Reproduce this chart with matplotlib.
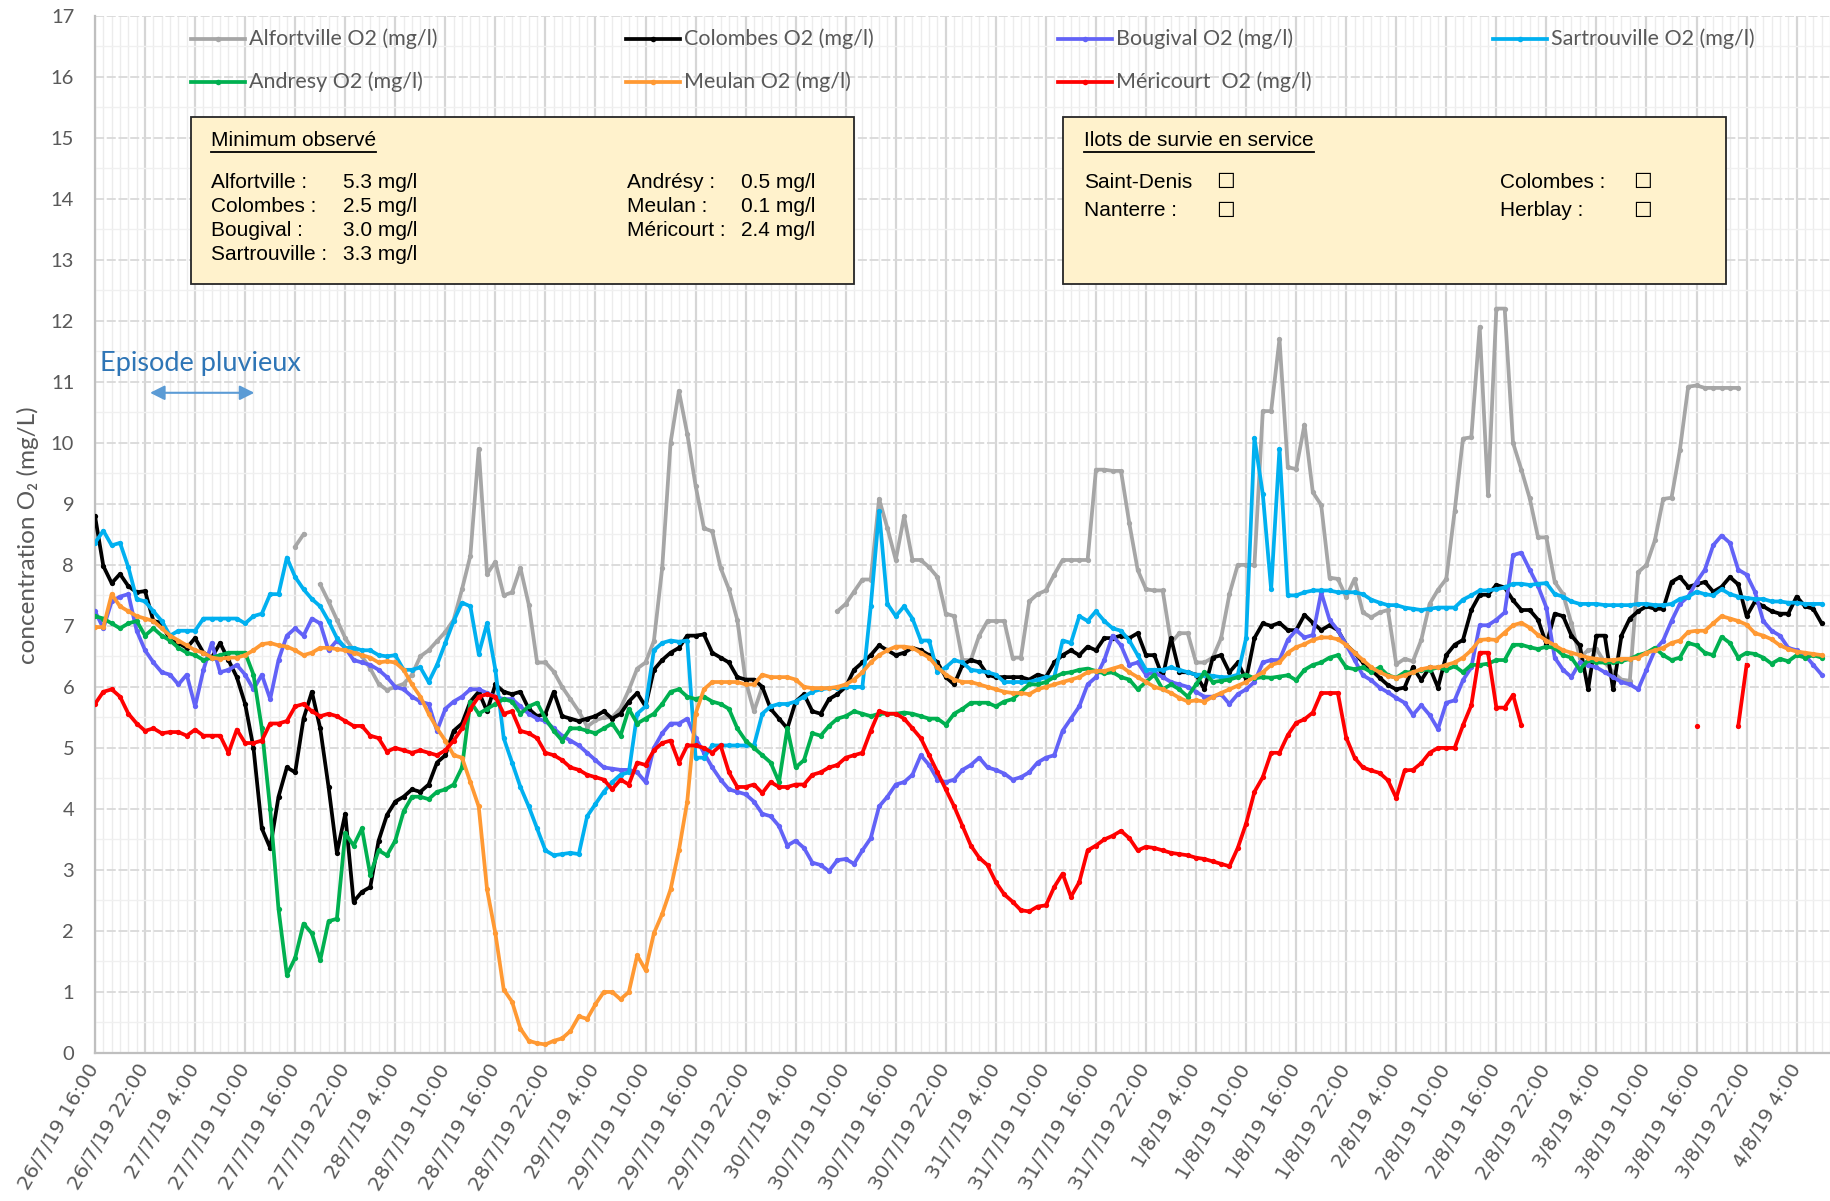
import numpy as np
import matplotlib
matplotlib.use('Agg')
import matplotlib.pyplot as plt
import matplotlib.dates as mdates
from matplotlib.lines import Line2D
from matplotlib.patches import Rectangle
import pandas as pd

nan = np.nan

# hourly readings, starting 26/7/19 16:00
start = pd.Timestamp('2019-07-26 16:00')
times = pd.date_range(start, periods=208, freq='h')

alfortville = [nan] * 24 + [8.3, 8.5, nan] + [
    7.68, 7.4, 7.1,
    6.8, 6.6, 6.5, 6.3, 6.05, 5.95, 6.0, 6.05, 6.2, 6.5,
    6.6, 6.75, 6.9, 7.1, 7.6, 8.15, 9.9, 7.85, 8.05, 7.5,
    7.55, 7.95, 7.35, 6.4, 6.4, 6.25, 6.0, 5.8, 5.6, 5.35,
    5.45, 5.5, 5.5, 5.65, 5.95, 6.3, 6.4, 6.75, 7.95, 10.0,
    10.85, 10.15, 9.3, 8.6, 8.55, 7.95, 7.6, 7.1, 6.1, 5.6,
    6.0] + [nan] * 8 + [
    7.24,
    7.36, 7.56, 7.76, 7.76, 9.08, 8.6, 8.08, 8.8, 8.08, 8.08,
    7.96, 7.8, 7.2, 7.16, 6.44, 6.44, 6.84, 7.08, 7.08, 7.08,
    6.48, 6.48, 7.4, 7.52, 7.58, 7.84, 8.08, 8.08, 8.08, 8.08,
    9.56, 9.56, 9.54, 9.54, 8.68, 7.92, 7.6, 7.58, 7.58, 6.72,
    6.88, 6.88, 6.4, 6.4, 6.48, 6.8, 7.52, 8.0, 8.0, 8.0,
    10.52, 10.52, 11.7, 9.6, 9.57, 10.3, 9.19, 8.98, 7.79, 7.77,
    7.47, 7.77, 7.22, 7.14, 7.22, 7.26, 6.37, 6.46, 6.42, 6.77,
    7.36, 7.59, 7.77, 8.88, 10.07, 10.09, 11.9, 9.15, 12.2, 12.2,
    10.0, 9.56, 9.09, 8.45, 8.45, 7.72, 7.52, 7.04, 6.48, 6.6,
    6.62, 6.4, 6.24, 6.12, 6.1, 7.88, 8.0, 8.4, 9.08, 9.1,
    9.88, 10.92, 10.94, 10.9, 10.9, 10.9, 10.9, 10.9] + [nan] * 10

colombes = [
    8.8, 7.98, 7.7, 7.85, 7.65, 7.55, 7.57, 7.08, 7.05, 6.76,
    6.72, 6.64, 6.8, 6.56, 6.48, 6.72, 6.44, 6.16, 5.72, 5.0,
    3.68, 3.36, 4.2, 4.68, 4.6, 5.48, 5.92, 5.32, 4.36, 3.28,
    3.92, 2.48, 2.64, 2.72, 3.48, 3.9, 4.12, 4.2, 4.32, 4.28,
    4.4, 4.76, 4.88, 5.28, 5.4, 5.76, 5.92, 5.6, 6.04, 5.92,
    5.88, 5.92, 5.64, 5.52, 5.56, 5.92, 5.52, 5.48, 5.44, 5.48,
    5.52, 5.6, 5.48, 5.56, 5.76, 5.9, 5.68, 6.28, 6.44, 6.56,
    6.64, 6.84, 6.84, 6.86, 6.56, 6.48, 6.4, 6.16, 6.12, 6.12,
    6.0, 5.64, 5.48, 5.32, 5.76, 5.88, 5.6, 5.56, 5.8, 5.88,
    6.0, 6.28, 6.4, 6.52, 6.68, 6.6, 6.52, 6.56, 6.64, 6.6,
    6.52, 6.4, 6.16, 6.04, 6.36, 6.44, 6.4, 6.2, 6.16, 6.16,
    6.16, 6.16, 6.12, 6.2, 6.16, 6.4, 6.52, 6.6, 6.52, 6.66,
    6.6, 6.8, 6.8, 6.84, 6.8, 6.88, 6.52, 6.52, 6.16, 6.8,
    6.24, 6.24, 6.2, 5.96, 6.48, 6.52, 6.24, 6.4, 6.12, 6.8,
    7.04, 7.0, 7.05, 6.93, 6.93, 7.18, 7.05, 6.93, 7.01, 6.93,
    6.69, 6.56, 6.4, 6.28, 6.15, 6.03, 5.96, 5.99, 6.32, 6.11,
    6.32, 5.99, 6.52, 6.69, 6.77, 7.26, 7.51, 7.51, 7.67, 7.63,
    7.42, 7.26, 7.26, 7.1, 6.7, 7.2, 7.16, 6.84, 6.68, 5.96,
    6.84, 6.84, 5.96, 6.84, 7.12, 7.24, 7.32, 7.28, 7.28, 7.72,
    7.8, 7.64, 7.68, 7.72, 7.56, 7.64, 7.8, 7.68, 7.16, 7.4,
    7.32, 7.24, 7.2, 7.2, 7.48, 7.32, 7.28, 7.04]

bougival = [
    7.24, 6.96, 7.4, 7.48, 7.52, 6.92, 6.6, 6.4, 6.24, 6.2,
    6.04, 6.2, 5.68, 6.28, 6.72, 6.24, 6.28, 6.36, 6.2, 5.96,
    6.2, 5.8, 6.44, 6.84, 6.96, 6.84, 7.12, 7.04, 6.6, 6.76,
    6.64, 6.44, 6.4, 6.36, 6.28, 6.16, 6.0, 5.96, 5.84, 5.76,
    5.72, 5.28, 5.64, 5.76, 5.84, 5.96, 5.96, 5.9, 5.84, 5.8,
    5.8, 5.68, 5.56, 5.48, 5.44, 5.32, 5.2, 5.12, 5.04, 4.92,
    4.8, 4.68, 4.66, 4.64, 4.64, 4.6, 4.44, 5.0, 5.24, 5.4,
    5.4, 5.48, 5.16, 4.92, 4.68, 4.48, 4.32, 4.28, 4.24, 4.12,
    3.92, 3.88, 3.72, 3.4, 3.48, 3.36, 3.12, 3.08, 2.98, 3.16,
    3.18, 3.1, 3.32, 3.52, 4.04, 4.2, 4.4, 4.44, 4.56, 4.88,
    4.72, 4.48, 4.44, 4.48, 4.64, 4.72, 4.84, 4.68, 4.64, 4.58,
    4.48, 4.52, 4.6, 4.76, 4.84, 4.88, 5.28, 5.48, 5.68, 6.04,
    6.16, 6.44, 6.84, 6.68, 6.36, 6.4, 6.2, 6.24, 6.16, 6.08,
    6.04, 6.0, 5.92, 5.84, 5.84, 5.88, 5.72, 5.88, 5.96, 6.08,
    6.4, 6.44, 6.44, 6.77, 6.93, 6.81, 6.85, 7.55, 7.1, 6.93,
    6.69, 6.44, 6.19, 6.11, 5.99, 5.91, 5.82, 5.74, 5.54, 5.7,
    5.54, 5.31, 5.74, 5.78, 6.11, 6.32, 7.01, 7.01, 7.1, 7.22,
    8.16, 8.2, 7.92, 7.65, 7.3, 6.48, 6.28, 6.16, 6.4, 6.36,
    6.32, 6.24, 6.16, 6.08, 6.04, 5.96, 6.28, 6.6, 6.76, 7.08,
    7.36, 7.48, 7.72, 7.92, 8.32, 8.48, 8.36, 7.92, 7.84, 7.56,
    7.08, 6.92, 6.84, 6.64, 6.6, 6.52, 6.36, 6.2]

sartrouville = [
    8.36, 8.56, 8.32, 8.36, 7.96, 7.44, 7.4, 7.24, 7.08, 6.84,
    6.92, 6.92, 6.92, 7.12, 7.12, 7.12, 7.12, 7.12, 7.04, 7.16,
    7.2, 7.52, 7.52, 8.12, 7.8, 7.6, 7.44, 7.32, 7.08, 6.8,
    6.64, 6.64, 6.6, 6.6, 6.52, 6.5, 6.52, 6.28, 6.28, 6.32,
    6.08, 6.36, 6.72, 7.08, 7.38, 7.32, 6.54, 7.04, 6.28, 5.16,
    4.76, 4.36, 4.04, 3.68, 3.32, 3.24, 3.26, 3.28, 3.26, 3.88,
    4.08, 4.28, 4.44, 4.56, 4.6, 5.56, 5.68, 6.6, 6.72, 6.76,
    6.74, 6.76, 4.84, 4.84, 5.04, 5.04, 5.04, 5.04, 5.04, 5.04,
    5.56, 5.68, 5.72, 5.72, 5.76, 5.84, 5.92, 5.96, 5.98, 5.98,
    6.0, 6.0, 6.0, 7.32, 8.88, 7.36, 7.16, 7.32, 7.12, 6.76,
    6.76, 6.24, 6.32, 6.44, 6.4, 6.28, 6.26, 6.24, 6.2, 6.08,
    6.08, 6.08, 6.08, 6.12, 6.16, 6.16, 6.76, 6.72, 7.16, 7.08,
    7.24, 7.08, 6.96, 6.92, 6.76, 6.52, 6.28, 6.28, 6.28, 6.32,
    6.28, 6.24, 6.2, 6.2, 6.18, 6.16, 6.16, 6.2, 6.8, 10.08,
    9.16, 7.6, 9.9, 7.5, 7.5, 7.55, 7.58, 7.58, 7.58, 7.55,
    7.55, 7.55, 7.52, 7.43, 7.38, 7.34, 7.34, 7.3, 7.28, 7.26,
    7.28, 7.3, 7.3, 7.3, 7.43, 7.5, 7.58, 7.58, 7.6, 7.63,
    7.69, 7.69, 7.67, 7.69, 7.7, 7.52, 7.48, 7.4, 7.36, 7.36,
    7.36, 7.34, 7.34, 7.34, 7.34, 7.36, 7.36, 7.34, 7.34, 7.36,
    7.44, 7.48, 7.56, 7.52, 7.5, 7.6, 7.52, 7.48, 7.46, 7.44,
    7.44, 7.4, 7.4, 7.38, 7.38, 7.36, 7.36, 7.36]

andresy = [
    7.16, 7.12, 7.04, 6.96, 7.04, 7.08, 6.84, 6.96, 6.84, 6.76,
    6.64, 6.56, 6.52, 6.44, 6.48, 6.52, 6.56, 6.56, 6.56, 6.2,
    5.32, 4.0, 2.36, 1.28, 1.56, 2.12, 1.96, 1.52, 2.16, 2.2,
    3.6, 3.4, 3.68, 2.92, 3.32, 3.24, 3.48, 3.96, 4.2, 4.2,
    4.16, 4.28, 4.32, 4.4, 4.68, 5.76, 5.56, 5.64, 5.72, 5.8,
    5.76, 5.56, 5.68, 5.74, 5.48, 5.28, 5.12, 5.32, 5.32, 5.28,
    5.24, 5.32, 5.4, 5.2, 5.64, 5.4, 5.48, 5.56, 5.72, 5.92,
    5.96, 5.84, 5.8, 5.84, 5.76, 5.72, 5.64, 5.32, 5.12, 5.0,
    4.88, 4.76, 4.44, 5.32, 4.68, 4.8, 5.24, 5.2, 5.36, 5.48,
    5.52, 5.6, 5.56, 5.52, 5.56, 5.56, 5.56, 5.58, 5.56, 5.52,
    5.48, 5.48, 5.38, 5.56, 5.64, 5.74, 5.74, 5.74, 5.68, 5.76,
    5.8, 5.92, 6.04, 6.04, 6.08, 6.16, 6.22, 6.24, 6.28, 6.3,
    6.26, 6.22, 6.24, 6.16, 6.12, 5.96, 6.08, 6.2, 5.96, 6.04,
    5.96, 5.84, 6.04, 6.24, 6.08, 6.1, 6.12, 6.16, 6.2, 6.14,
    6.16, 6.15, 6.17, 6.19, 6.11, 6.28, 6.36, 6.4, 6.48, 6.52,
    6.32, 6.29, 6.32, 6.24, 6.32, 6.19, 6.15, 6.24, 6.24, 6.28,
    6.28, 6.32, 6.28, 6.34, 6.24, 6.36, 6.36, 6.38, 6.44, 6.44,
    6.69, 6.69, 6.65, 6.62, 6.66, 6.64, 6.52, 6.48, 6.28, 6.44,
    6.4, 6.4, 6.4, 6.42, 6.46, 6.52, 6.56, 6.64, 6.52, 6.44,
    6.48, 6.72, 6.68, 6.56, 6.52, 6.82, 6.72, 6.48, 6.56, 6.54,
    6.48, 6.38, 6.46, 6.42, 6.52, 6.48, 6.52, 6.48]

meulan = [
    6.98, 6.98, 7.52, 7.32, 7.24, 7.16, 7.12, 7.08, 6.96, 6.84,
    6.76, 6.68, 6.6, 6.56, 6.48, 6.46, 6.48, 6.48, 6.52, 6.6,
    6.7, 6.72, 6.68, 6.66, 6.6, 6.52, 6.56, 6.64, 6.64, 6.62,
    6.6, 6.56, 6.52, 6.48, 6.4, 6.42, 6.4, 6.28, 6.04, 5.84,
    5.56, 5.32, 5.12, 4.88, 4.84, 4.44, 4.04, 2.68, 1.96, 1.04,
    0.84, 0.4, 0.2, 0.16, 0.14, 0.2, 0.24, 0.36, 0.6, 0.56,
    0.8, 1.0, 1.0, 0.88, 1.0, 1.6, 1.36, 1.96, 2.28, 2.68,
    3.32, 4.12, 5.56, 5.96, 6.08, 6.08, 6.08, 6.08, 6.04, 6.04,
    6.2, 6.16, 6.16, 6.16, 6.12, 6.0, 5.98, 5.98, 5.98, 6.0,
    6.04, 6.12, 6.24, 6.4, 6.52, 6.6, 6.66, 6.66, 6.64, 6.56,
    6.48, 6.32, 6.2, 6.12, 6.08, 6.08, 6.04, 6.0, 5.96, 5.92,
    5.9, 5.9, 5.88, 5.96, 6.0, 6.04, 6.08, 6.12, 6.16, 6.24,
    6.26, 6.26, 6.3, 6.34, 6.24, 6.16, 6.08, 6.0, 5.96, 5.9,
    5.82, 5.76, 5.78, 5.76, 5.84, 5.9, 5.96, 6.02, 6.08, 6.16,
    6.24, 6.36, 6.4, 6.56, 6.65, 6.7, 6.77, 6.81, 6.81, 6.78,
    6.69, 6.56, 6.44, 6.32, 6.24, 6.18, 6.15, 6.19, 6.24, 6.29,
    6.32, 6.32, 6.36, 6.4, 6.48, 6.6, 6.77, 6.78, 6.77, 6.89,
    7.01, 7.05, 6.97, 6.85, 6.76, 6.68, 6.6, 6.56, 6.52, 6.48,
    6.46, 6.44, 6.44, 6.46, 6.46, 6.48, 6.56, 6.6, 6.64, 6.72,
    6.76, 6.9, 6.92, 6.92, 7.04, 7.16, 7.12, 7.08, 7.02, 6.88,
    6.84, 6.78, 6.68, 6.62, 6.58, 6.56, 6.54, 6.52]

mericourt = [
    5.72, 5.92, 5.96, 5.84, 5.56, 5.4, 5.28, 5.32, 5.24, 5.26,
    5.26, 5.2, 5.3, 5.2, 5.2, 5.2, 4.92, 5.3, 5.08, 5.08,
    5.12, 5.4, 5.4, 5.44, 5.68, 5.72, 5.6, 5.52, 5.56, 5.52,
    5.44, 5.36, 5.36, 5.2, 5.16, 4.94, 5.0, 4.96, 4.92, 4.96,
    4.92, 4.88, 4.96, 5.12, 5.32, 5.64, 5.84, 5.88, 5.84, 5.56,
    5.6, 5.28, 5.24, 5.16, 4.92, 4.88, 4.8, 4.68, 4.64, 4.56,
    4.52, 4.48, 4.32, 4.48, 4.4, 4.76, 4.72, 4.96, 5.08, 5.12,
    4.76, 5.04, 5.04, 5.0, 4.92, 5.04, 4.6, 4.36, 4.36, 4.4,
    4.26, 4.44, 4.36, 4.36, 4.4, 4.4, 4.56, 4.6, 4.68, 4.72,
    4.84, 4.88, 4.92, 5.28, 5.6, 5.56, 5.56, 5.48, 5.32, 5.16,
    4.88, 4.6, 4.32, 4.04, 3.72, 3.4, 3.2, 3.08, 2.8, 2.6,
    2.48, 2.34, 2.32, 2.4, 2.42, 2.72, 2.94, 2.56, 2.8, 3.32,
    3.4, 3.5, 3.56, 3.64, 3.52, 3.32, 3.38, 3.36, 3.32, 3.28,
    3.26, 3.24, 3.2, 3.18, 3.14, 3.1, 3.06, 3.36, 3.76, 4.28,
    4.52, 4.92, 4.92, 5.21, 5.41, 5.47, 5.58, 5.9, 5.9, 5.9,
    5.17, 4.84, 4.68, 4.63, 4.59, 4.47, 4.18, 4.63, 4.64, 4.75,
    4.92, 5.0, 5.0, 5.0, 5.37, 5.7, 6.56, 6.56, 5.66, 5.66,
    5.87, 5.37] + [nan] * 20 + [5.36] + [nan] * 4 + [5.36, 6.36] + [nan] * 9

series = [
    ('Alfortville O2 (mg/l)', alfortville, '#a6a6a6'),
    ('Colombes O2 (mg/l)', colombes, '#000000'),
    ('Bougival O2 (mg/l)', bougival, '#6262f7'),
    ('Sartrouville O2 (mg/l)', sartrouville, '#00b0f0'),
    ('Andresy O2 (mg/l)', andresy, '#00b050'),
    ('Meulan O2 (mg/l)', meulan, '#ff9933'),
    ('Méricourt  O2 (mg/l)', mericourt, '#ff0000'),
]

min_left = [('Alfortville :', '5.3 mg/l'), ('Colombes :', '2.5 mg/l'),
            ('Bougival :', '3.0 mg/l'), ('Sartrouville :', '3.3 mg/l')]
min_right = [('Andrésy :', '0.5 mg/l'), ('Meulan :', '0.1 mg/l'),
             ('Méricourt :', '2.4 mg/l')]
ilots_left = ['Saint-Denis', 'Nanterre :']
ilots_right = ['Colombes :', 'Herblay :']

W, H = 1830, 1201
GREY = '#595959'


def fx(x):
    return x / W


def fy(y):
    return 1 - y / H


fig = plt.figure(figsize=(W / 100, H / 100), dpi=100)
ax = fig.add_axes([fx(95), fy(1053), fx(W - 95), (1053 - 15.7) / H])

for name, vals, col in series:
    ax.plot(times, vals, color=col, lw=2.7, marker='o', ms=3.8, mew=0,
            solid_joinstyle='round', zorder=3)

hours_visible = (W - 95) / 8.358
ax.set_xlim(start, start + pd.Timedelta(hours=hours_visible))
ax.set_ylim(0, 17)

major = pd.date_range(start, start + pd.Timedelta(hours=204), freq='6h')
minor = pd.date_range(start, start + pd.Timedelta(hours=208), freq='h')
ax.set_xticks(major)
ax.set_xticks(minor, minor=True)
ax.set_xticklabels([f'{d.day}/{d.month}/{d.year % 100} {d.hour}:{d.minute:02d}' for d in major],
                   rotation=60, ha='right', va='center', rotation_mode='anchor',
                   fontsize=14.5, color=GREY, family='DejaVu Sans')
ax.set_yticks(range(18))
ax.set_yticks(np.arange(0.5, 17, 1), minor=True)
ax.set_yticklabels([str(v) for v in range(18)], fontsize=14.5, color=GREY, family='Lato')
ax.tick_params(axis='both', which='both', length=0)
ax.tick_params(axis='y', pad=15)
ax.tick_params(axis='x', pad=9)

ax.set_axisbelow(True)
ax.grid(which='major', axis='x', color='#d6d6d6', lw=1.6)
ax.grid(which='minor', axis='x', color='#ececec', lw=1)
ax.grid(which='major', axis='y', color='#d9d9d9', lw=1.3, ls=(0, (5, 1.5)))
ax.grid(which='minor', axis='y', color='#f0f0f0', lw=1)
for s in ['top', 'right']:
    ax.spines[s].set_visible(False)
for s in ['left', 'bottom']:
    ax.spines[s].set_color('#bfbfbf')
    ax.spines[s].set_linewidth(1.6)

fig.text(fx(28), fy(535), 'concentration O₂ (mg/L)', rotation=90, ha='center', va='center',
         fontsize=17.5, color=GREY, family=['Lato', 'DejaVu Sans'])

# rain episode
t0 = mdates.date2num(start)
ax.text(t0 + 0.6 / 24, 11.3, 'Episode pluvieux', fontsize=19.5, color='#2e75b6',
        family='Lato', ha='left', va='center', zorder=5)
ax.annotate('', xy=(t0 + 19.1 / 24, 10.82), xytext=(t0 + 6.6 / 24, 10.82),
            arrowprops=dict(arrowstyle='<|-|>', color='#5b9bd5', lw=1.5,
                            mutation_scale=22, shrinkA=0, shrinkB=0), zorder=5)

# legend, drawn by hand in four fixed columns
cols_x = [191, 626, 1058, 1493]
rows_y = [39, 82]
for i, (name, vals, col) in enumerate(series):
    x0 = cols_x[i % 4]
    y0 = rows_y[i // 4]
    fig.add_artist(Line2D([fx(x0), fx(x0 + 27), fx(x0 + 54)], [fy(y0)] * 3, color=col,
                          lw=2.7, marker='o', ms=4, mew=0, markevery=[1]))
    fig.text(fx(x0 + 58), fy(y0), name, fontsize=15.5, color=GREY, family='Lato',
             ha='left', va='center')

# annotation boxes
for bx0, bx1 in [(191, 854), (1063, 1726)]:
    fig.add_artist(Rectangle((fx(bx0), fy(284)), fx(bx1 - bx0), (284 - 117) / H,
                             facecolor='#fff2cc', edgecolor='#262626', lw=1.3,
                             transform=fig.transFigure))

box_font = dict(fontsize=15, color='black', family=['Liberation Sans', 'DejaVu Sans'],
                va='center', ha='left')
titles = [fig.text(fx(211), fy(141), 'Minimum observé', **box_font),
          fig.text(fx(1084), fy(141), 'Ilots de survie en service', **box_font)]

row_y = [182, 206, 231, 255]
for (lab, val), y in zip(min_left, row_y):
    fig.text(fx(211), fy(y), lab, **box_font)
    fig.text(fx(343), fy(y), val, **box_font)
for (lab, val), y in zip(min_right, row_y):
    fig.text(fx(627), fy(y), lab, **box_font)
    fig.text(fx(741), fy(y), val, **box_font)
for lab, y in zip(ilots_left, [182, 211]):
    fig.text(fx(1084), fy(y), lab, **box_font)
    fig.text(fx(1216), fy(y), '☐', **box_font)
for lab, y in zip(ilots_right, [182, 211]):
    fig.text(fx(1500), fy(y), lab, **box_font)
    fig.text(fx(1633), fy(y), '☐', **box_font)

# underline the two box titles
fig.canvas.draw()
r = fig.canvas.get_renderer()
for t in titles:
    bb = t.get_window_extent(r)
    fig.add_artist(Line2D([bb.x0 / W, bb.x1 / W], [(bb.y0 - 1) / H] * 2,
                          color='black', lw=1.3))

fig.savefig('out.png', dpi=100)
